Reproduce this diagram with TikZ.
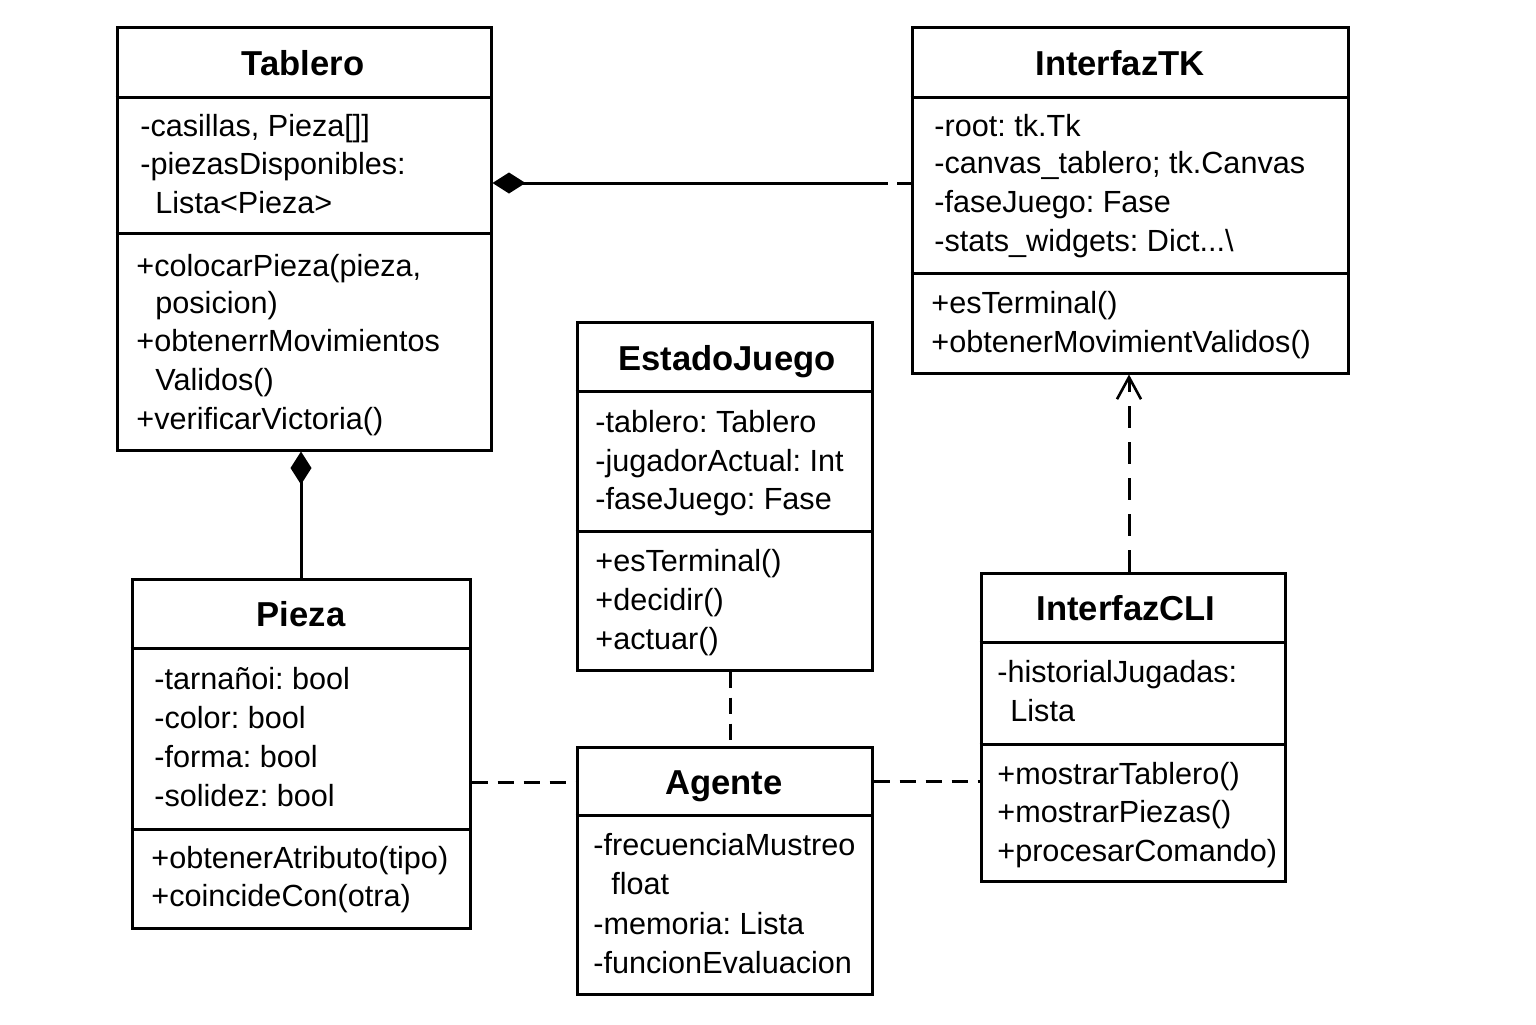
\documentclass[tikz,border=0pt]{standalone}
\usepackage{fontspec}
\setmainfont{Liberation Sans}
\usetikzlibrary{arrows.meta}
\frenchspacing
\tikzset{
  cls/.style={draw, line width=1.5pt, inner sep=0pt, fill=white},
  sepline/.style={line width=1.5pt},
  ttl/.style={font=\fontsize{17.3}{20}\selectfont\bfseries, inner sep=0pt, anchor=base},
  txt/.style={font=\fontsize{15.3}{19}\selectfont, anchor=base west, inner sep=0pt},
  conn/.style={line width=1.5pt},
  dashc/.style={conn, dash pattern=on 8pt off 5pt},
  depc/.style={conn, dash pattern=on 11pt off 7pt},
  dep/.style={-{Straight Barb[length=11pt,width=12pt,line width=1.3pt]}}
}
\begin{document}
\begin{tikzpicture}[x=0.5pt,y=-0.5pt]
\useasboundingbox[fill=white] (0,0) rectangle (1536,1024);

% ---------- Tablero ----------
\node[cls, minimum width=187pt, minimum height=211.5pt] (tablero) at (304,238.5) {};
\draw[sepline] (tablero.west |- 0,97) -- (tablero.east |- 0,97);
\draw[sepline] (tablero.west |- 0,233) -- (tablero.east |- 0,233);
\node[ttl] (tabT) at (303,75) {Tablero};
\node[txt] (tabA1) at (140,136) {-casillas, Pieza[]]};
\node[txt] (tabA2) at (140,174) {-piezasDisponibles:};
\node[txt] (tabA3) at (155,213) {Lista<Pieza>};
\node[txt] (tabM1) at (136,276) {+colocarPieza(pieza,};
\node[txt] (tabM2) at (155,313) {posicion)};
\node[txt] (tabM3) at (136,351) {+obtenerrMovimientos};
\node[txt] (tabM4) at (155,390) {Validos()};
\node[txt] (tabM5) at (136,429) {+verificarVictoria()};

% ---------- InterfazTK ----------
\node[cls, minimum width=218pt, minimum height=173pt] (itk) at (1130,200) {};
\draw[sepline] (itk.west |- 0,97) -- (itk.east |- 0,97);
\draw[sepline] (itk.west |- 0,273) -- (itk.east |- 0,273);
\node[ttl] (itkT) at (1120,75) {InterfazTK};
\node[txt] (itkA1) at (934,136) {-root: tk.Tk};
\node[txt] (itkA2) at (934,173) {-canvas\_tablero; tk.Canvas};
\node[txt] (itkA3) at (934,212) {-faseJuego: Fase};
\node[txt] (itkA4) at (934,251) {-stats\_widgets: Dict...\textbackslash};
\node[txt] (itkM1) at (931,313) {+esTerminal()};
\node[txt] (itkM2) at (931,352) {+obtenerMovimientValidos()};

% ---------- EstadoJuego ----------
\node[cls, minimum width=147.5pt, minimum height=174pt] (est) at (724.5,496) {};
\draw[sepline] (est.west |- 0,391) -- (est.east |- 0,391);
\draw[sepline] (est.west |- 0,531) -- (est.east |- 0,531);
\node[ttl] (estT) at (727,370) {EstadoJuego};
\node[txt] (estA1) at (595,432) {-tablero: Tablero};
\node[txt] (estA2) at (595,471) {-jugadorActual: Int};
\node[txt] (estA3) at (595,509) {-faseJuego: Fase};
\node[txt] (estM1) at (595,571) {+esTerminal()};
\node[txt] (estM2) at (595,610) {+decidir()};
\node[txt] (estM3) at (595,649) {+actuar()};

% ---------- Pieza ----------
\node[cls, minimum width=169pt, minimum height=174.5pt] (pieza) at (301,753.5) {};
\draw[sepline] (pieza.west |- 0,648) -- (pieza.east |- 0,648);
\draw[sepline] (pieza.west |- 0,829) -- (pieza.east |- 0,829);
\node[ttl] (piezaT) at (301,626) {Pieza};
\node[txt] (piezaA1) at (154,689) {-tarnañoi: bool};
\node[txt] (piezaA2) at (154,728) {-color: bool};
\node[txt] (piezaA3) at (154,767) {-forma: bool};
\node[txt] (piezaA4) at (154,806) {-solidez: bool};
\node[txt] (piezaM1) at (151,868) {+obtenerAtributo(tipo)};
\node[txt] (piezaM2) at (151,906) {+coincideCon(otra)};

% ---------- InterfazCLI ----------
\node[cls, minimum width=152pt, minimum height=154pt] (icli) at (1133,727) {};
\draw[sepline] (icli.west |- 0,642) -- (icli.east |- 0,642);
\draw[sepline] (icli.west |- 0,744) -- (icli.east |- 0,744);
\node[ttl] (icliT) at (1126,620) {InterfazCLI};
\node[txt] (icliA1) at (997,682) {-historialJugadas:};
\node[txt] (icliA2) at (1010,721) {Lista};
\node[txt] (icliM1) at (997,784) {+mostrarTablero()};
\node[txt] (icliM2) at (997,822) {+mostrarPiezas()};
\node[txt] (icliM3) at (997,861) {+procesarComando)};

% ---------- Agente ----------
\node[cls, minimum width=147.5pt, minimum height=123.5pt] (agente) at (724.5,870.5) {};
\draw[sepline] (agente.west |- 0,815) -- (agente.east |- 0,815);
\node[ttl] (agenteT) at (724,794) {Agente};
\node[txt] (agA1) at (593,855) {-frecuenciaMustreo};
\node[txt] (agA2) at (611,894) {float};
\node[txt] (agA3) at (593,934) {-memoria: Lista};
\node[txt] (agA4) at (593,973) {-funcionEvaluacion};

% ---------- Connectors ----------
\coordinate (tkgap) at (888,183);
\coordinate (tkgap2) at (897,183);
\draw[conn, {Diamond[length=16.5pt,width=10.5pt]}-] (tablero.east |- tkgap) -- (tkgap);
\draw[conn] (tkgap2) -- (itk.west |- tkgap2);

\draw[conn, {Diamond[length=16.5pt,width=10.5pt]}-] (tablero.south -| 301,0) -- (pieza.north -| 301,0);

\draw[depc, dep] (icli.north -| 1129,0) -- (itk.south -| 1129,0);

\draw[dashc] (est.south -| 730,0) -- (agente.north -| 730,0);
\draw[dashc] (pieza.east |- 0,782) -- (agente.west |- 0,782);
\draw[dashc] (agente.east |- 0,781) -- (icli.west |- 0,781);
\end{tikzpicture}
\end{document}
